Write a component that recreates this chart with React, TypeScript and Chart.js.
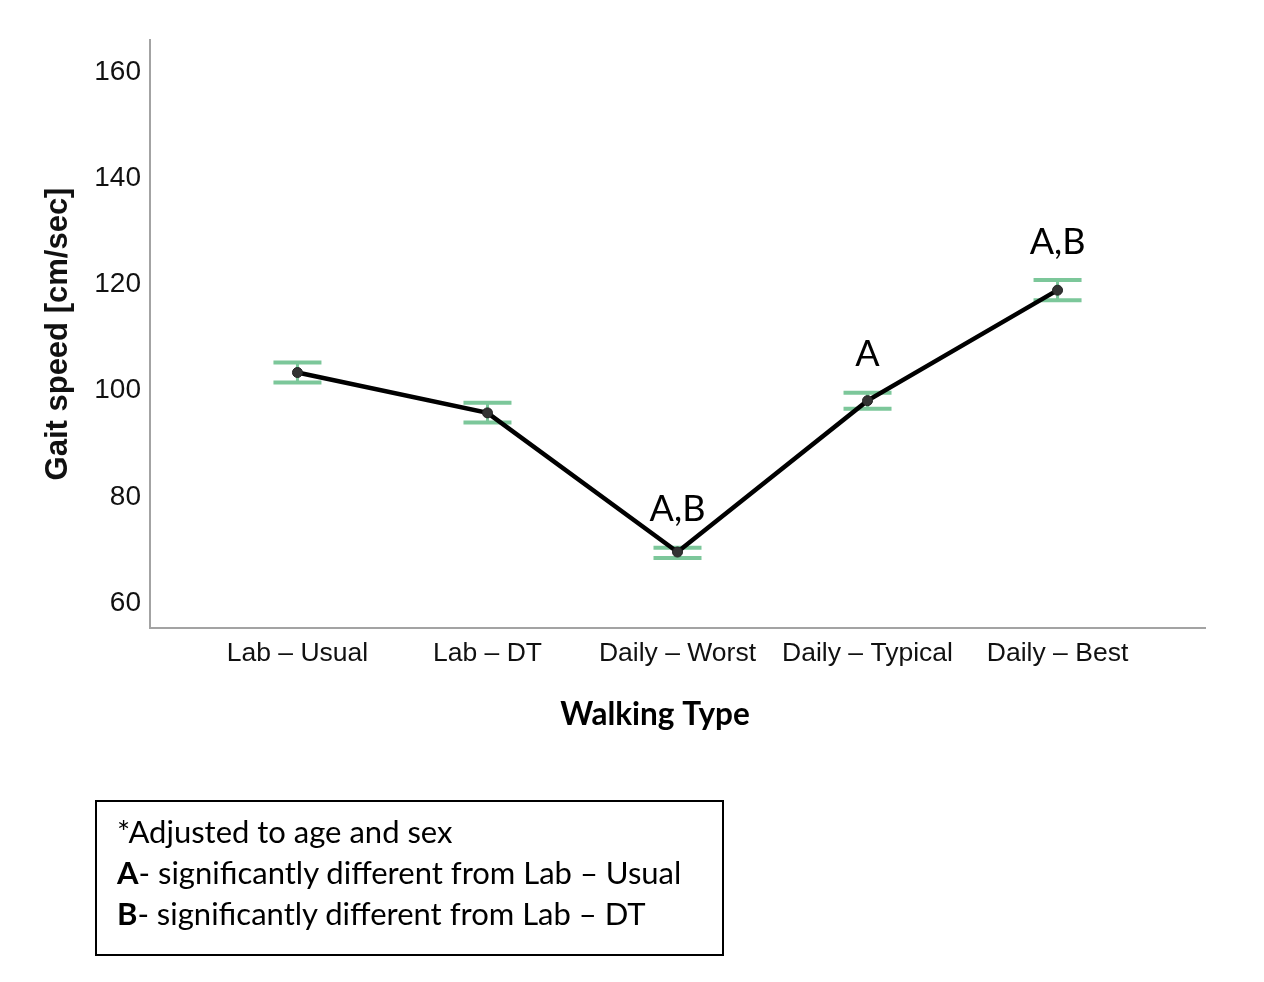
import React, { useEffect, useRef } from "react";
import { Chart, registerables } from "chart.js";

Chart.register(...registerables);

const categories = ["Lab – Usual", "Lab – DT", "Daily – Worst", "Daily – Typical", "Daily – Best"];
const means = [103.4, 95.8, 69.6, 98.1, 118.9];
const upper = [105.3, 97.7, 70.4, 99.6, 120.8];
const lower = [101.5, 94.0, 68.5, 96.6, 117.0];
const sigLabels = ["", "", "A,B", "A", "A,B"];
const yTicks = [60, 80, 100, 120, 140, 160];
const xTicks = [0, 1, 2, 3, 4];
const noteLines = [
  { bold: "", text: "*Adjusted to age and sex" },
  { bold: "A", text: "- significantly different from Lab – Usual" },
  { bold: "B", text: "- significantly different from Lab – DT" },
];

const GREEN = "#7cc79a";
const AXIS = "#a3a3a3";
const TICK_FONT = "'Liberation Sans', Arial, sans-serif";
const NOTE_FONT = "Lato, 'Open Sans', sans-serif";

const errorBarPlugin = {
  id: "errorBars",
  beforeDatasetsDraw(chart: any) {
    const { ctx, scales } = chart;
    const xs = scales.x;
    const ys = scales.y;
    ctx.save();
    ctx.strokeStyle = GREEN;
    for (let i = 0; i < means.length; i++) {
      const px = xs.getPixelForValue(i);
      const pu = ys.getPixelForValue(upper[i]);
      const pl = ys.getPixelForValue(lower[i]);
      ctx.lineWidth = 3;
      ctx.beginPath();
      ctx.moveTo(px, pu);
      ctx.lineTo(px, pl);
      ctx.stroke();
      ctx.lineWidth = 4;
      ctx.beginPath();
      ctx.moveTo(px - 24, pu);
      ctx.lineTo(px + 24, pu);
      ctx.moveTo(px - 24, pl);
      ctx.lineTo(px + 24, pl);
      ctx.stroke();
    }
    ctx.restore();
  },
  afterDraw(chart: any) {
    const { ctx, scales } = chart;
    const xs = scales.x;
    const ys = scales.y;
    ctx.save();
    ctx.fillStyle = "#000";
    ctx.textAlign = "center";
    ctx.textBaseline = "middle";
    ctx.font = `36px ${NOTE_FONT}`;
    for (let i = 0; i < means.length; i++) {
      if (!sigLabels[i]) continue;
      const px = xs.getPixelForValue(i);
      const pu = ys.getPixelForValue(upper[i]);
      ctx.fillText(sigLabels[i], px, pu - 38);
    }
    ctx.font = `bold 31.5px ${NOTE_FONT}`;
    ctx.fillText("Walking Type", 655, 715);
    ctx.restore();
  },
};

export default function App() {
  const canvasRef = useRef<HTMLCanvasElement | null>(null);

  useEffect(() => {
    const canvas = canvasRef.current;
    if (!canvas) return;
    const chart = new Chart(canvas, {
      type: "line",
      data: {
        datasets: [
          {
            data: means.map((v, i) => ({ x: i, y: v })),
            borderColor: "#000",
            borderWidth: 4.5,
            pointRadius: 5,
            pointBackgroundColor: "#333",
            pointBorderColor: "#222",
            pointBorderWidth: 1,
            tension: 0,
          },
        ],
      },
      options: {
        responsive: false,
        animation: false,
        layout: { padding: { top: 40, right: 59, left: 0, bottom: 0 } },
        plugins: { legend: { display: false }, tooltip: { enabled: false } },
        scales: {
          x: {
            type: "linear",
            min: -0.776,
            max: 4.776,
            grid: { display: false, drawTicks: false },
            border: { display: true, color: AXIS, width: 2 },
            afterBuildTicks: (scale: any) => {
              scale.ticks = xTicks.map((v) => ({ value: v }));
            },
            afterFit: (scale: any) => {
              scale.height = 354;
            },
            ticks: {
              padding: 10,
              maxRotation: 0,
              autoSkip: false,
              color: "#111",
              font: { family: TICK_FONT, size: 26.5 },
              callback: (v: any) => categories[v as number] ?? "",
            },
          },
          y: {
            type: "linear",
            min: 55.3,
            max: 166,
            grid: { display: false, drawTicks: false },
            border: { display: true, color: AXIS, width: 2 },
            afterBuildTicks: (scale: any) => {
              scale.ticks = yTicks.map((v) => ({ value: v }));
            },
            afterFit: (scale: any) => {
              scale.width = 150;
            },
            ticks: {
              padding: 9,
              color: "#111",
              font: { family: TICK_FONT, size: 28 },
            },
            title: {
              display: true,
              text: "Gait speed [cm/sec]",
              color: "#111",
              font: { family: TICK_FONT, size: 31, weight: "bold" },
              padding: { top: 40, bottom: 0 },
            },
          },
        },
      },
      plugins: [errorBarPlugin],
    } as any);
    return () => chart.destroy();
  }, []);

  return (
    <div style={{ position: "fixed", left: 0, top: 0, width: 1264, height: 982, background: "#fff" }}>
      <canvas ref={canvasRef} width={1264} height={982} style={{ position: "absolute", left: 0, top: 0 }} />
      <div
        style={{
          position: "absolute",
          left: 95,
          top: 800,
          width: 629,
          height: 156,
          boxSizing: "border-box",
          border: "2px solid #000",
          padding: "9px 0 0 20px",
          fontFamily: NOTE_FONT,
          fontSize: 31,
          lineHeight: "41px",
          color: "#000",
        }}
      >
        {noteLines.map((l, i) => (
          <div key={i} style={{ whiteSpace: "nowrap" }}>
            {l.bold ? <b>{l.bold}</b> : null}
            {l.text}
          </div>
        ))}
      </div>
    </div>
  );
}
